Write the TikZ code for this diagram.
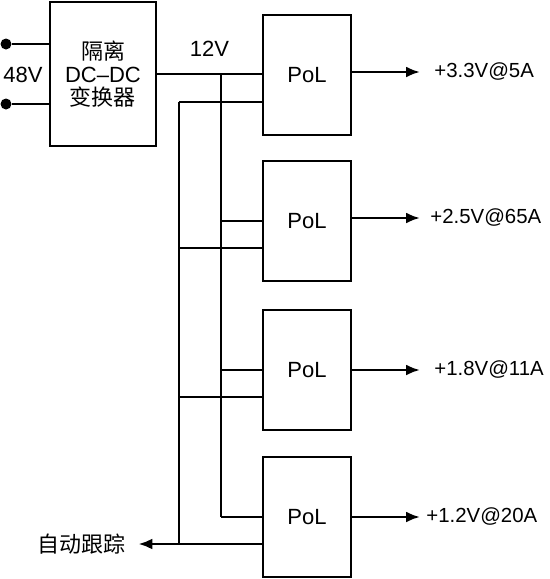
\documentclass[tikz,border=0pt]{standalone}
\usepackage{fontspec}
\setmainfont{Liberation Sans}
\newfontfamily\cjk{Noto Sans CJK SC}
\usepackage{tikz}
\usetikzlibrary{arrows.meta, calc, positioning}

\tikzset{
  blk/.style={draw, line width=1.3pt, minimum width=44pt, minimum height=60pt},
  dot/.style={circle, fill, inner sep=0pt, minimum size=5.5pt},
  wire/.style={line width=1.3pt},
  tip/.style={-{Latex[length=7pt, width=5.5pt]}},
  outlbl/.style={anchor=west, font=\fontsize{10.2}{12}\selectfont}
}

\begin{document}
\begin{tikzpicture}[x=0.5pt, y=-0.5pt, font=\fontsize{11}{11.5}\selectfont]
  \useasboundingbox (0,0) rectangle (550,579);

  % isolated converter and input
  \node[blk, minimum width=53pt, minimum height=72pt, align=center] (conv) at (103,74)
    {{\cjk 隔离}\\DC--DC\\{\cjk 变换器}};
  \node[dot] (in1) at (6,44) {};
  \node[dot] (in2) at (6,104) {};
  \draw[wire] (in1) -- (in1 -| conv.west);
  \draw[wire] (in2) -- (in2 -| conv.west);
  \node (vin) at (23,75) {48V};

  % point-of-load converters
  \node[blk] (pol1) at (307,75) {PoL};
  \node[blk] (pol2) at (307,221) {PoL};
  \node[blk] (pol3) at (307,370) {PoL};
  \node[blk] (pol4) at (307,517) {PoL};

  \coordinate (busa) at (221,0);
  \coordinate (busb) at (179,0);
  \foreach \k in {1,...,4} {
    \coordinate (p\k a) at (pol\k.west);
    \coordinate (p\k b) at ($(pol\k.west)+(0,27)$);
  }

  % 12V bus
  \draw[wire] (conv.east) -- (conv.east -| pol1.west)
    node[pos=0.5, above=5pt] (vbus) {12V};
  \draw[wire] (busa |- p1a) -- (busa |- p4a);
  \draw[wire] (busb |- p1b) -- (busb |- p4b);
  \draw[wire] (busb |- p1b) -- (p1b);
  \foreach \k in {2,3,4} {
    \draw[wire] (busa |- p\k a) -- (p\k a);
    \draw[wire] (busb |- p\k b) -- (p\k b);
  }

  % tracking line
  \node[inner xsep=6pt] (track) at (82,544) {\cjk 自动跟踪};
  \draw[wire, tip] (p4b) -- (p4b -| track.east);

  % outputs
  \node[outlbl, inner xsep=7pt] (out1) at (420,72) {+3.3V@5A};
  \node[outlbl, inner xsep=5pt] (out2) at (420,218) {+2.5V@65A};
  \node[outlbl, inner xsep=7pt] (out3) at (420,370) {+1.8V@11A};
  \node[outlbl, inner xsep=3pt] (out4) at (420,517) {+1.2V@20A};
  \foreach \k in {1,...,4} {
    \draw[wire, tip] (pol\k.east |- out\k.west) -- (out\k.west);
  }
\end{tikzpicture}
\end{document}
